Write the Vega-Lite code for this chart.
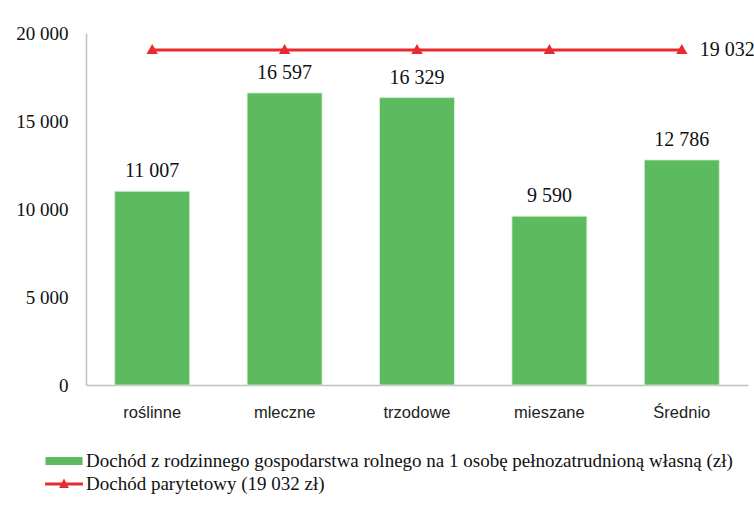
{
  "$schema": "https://vega.github.io/schema/vega-lite/v6.json",
  "width": 662,
  "height": 352,
  "autosize": "none",
  "padding": {"left": 86, "top": 33, "right": 6, "bottom": 120},
  "background": "white",
  "config": {"view": {"stroke": null}},
  "data": {
    "values": [
      {"kat": "roślinne", "dochod": 11007, "parytet": 19032, "label": "11 007", "plabel": ""},
      {"kat": "mleczne", "dochod": 16597, "parytet": 19032, "label": "16 597", "plabel": ""},
      {"kat": "trzodowe", "dochod": 16329, "parytet": 19032, "label": "16 329", "plabel": ""},
      {"kat": "mieszane", "dochod": 9590, "parytet": 19032, "label": "9 590", "plabel": ""},
      {"kat": "Średnio", "dochod": 12786, "parytet": 19032, "label": "12 786", "plabel": "19 032"}
    ]
  },
  "encoding": {
    "x": {
      "field": "kat", "type": "nominal", "sort": null,
      "scale": {"paddingInner": 0.434, "paddingOuter": 0.217},
      "axis": {
        "title": null, "labelAngle": 0, "ticks": false,
        "domainColor": "#bfbfbf", "domainWidth": 1.5,
        "labelFont": "Liberation Sans", "labelFontSize": 16.5, "labelColor": "#222",
        "labelPadding": 19
      }
    }
  },
  "layer": [
    {
      "mark": {"type": "bar", "stroke": "#d8efd8", "strokeWidth": 0.8},
      "encoding": {
        "y": {
          "field": "dochod", "type": "quantitative",
          "scale": {"domain": [0, 20000], "nice": false},
          "axis": {
            "title": null, "grid": false, "ticks": false,
            "values": [0, 5000, 10000, 15000, 20000],
            "labelExpr": "replace(format(datum.value, ',d'), ',', ' ')",
            "domainColor": "#bfbfbf", "domainWidth": 1.5,
            "labelFont": "Liberation Serif", "labelFontSize": 19, "labelColor": "#111",
            "labelPadding": 18
          }
        },
        "color": {
          "datum": "Dochód z rodzinnego gospodarstwa rolnego na 1  osobę pełnozatrudnioną własną (zł)",
          "type": "nominal",
          "scale": {
            "domain": ["Dochód z rodzinnego gospodarstwa rolnego na 1  osobę pełnozatrudnioną własną (zł)", "Dochód parytetowy (19 032 zł)"],
            "range": ["#5cbb5e", "#ea2a2f"]
          },
          "legend": {
            "title": null,
            "orient": "none",
            "legendX": -31.5,
            "legendY": 418.5,
            "direction": "vertical",
            "rowPadding": 3,
            "symbolSize": 324,
            "symbolStrokeWidth": 0,
            "symbolType": {"expr": "datum.value === 'Dochód parytetowy (19 032 zł)' ? 'M-2.1,-0.17H2.1V0.17H-2.1Z M-0.55,0.45L0,-0.6L0.55,0.45Z' : 'M-2.06,-0.44H2.06V0.44H-2.06Z'"},
            "labelFont": "Liberation Serif",
            "labelFontSize": 19,
            "labelColor": "#111",
            "labelLimit": 900,
            "labelOffset": 12.5
          }
        }
      }
    },
    {
      "mark": {"type": "text", "baseline": "bottom", "dy": -10, "font": "Liberation Serif", "fontSize": 20, "color": "#111"},
      "encoding": {
        "y": {"field": "dochod", "type": "quantitative"},
        "text": {"field": "label"}
      }
    },
    {
      "mark": {
        "type": "line", "strokeWidth": 3,
        "point": {"shape": "triangle-up", "size": 130, "filled": true, "yOffset": -1}
      },
      "encoding": {
        "y": {"field": "parytet", "type": "quantitative"},
        "color": {"datum": "Dochód parytetowy (19 032 zł)", "type": "nominal"}
      }
    },
    {
      "mark": {"type": "text", "align": "left", "baseline": "middle", "dx": 18, "font": "Liberation Serif", "fontSize": 20, "color": "#111"},
      "encoding": {
        "y": {"field": "parytet", "type": "quantitative"},
        "text": {"field": "plabel"}
      }
    }
  ]
}
